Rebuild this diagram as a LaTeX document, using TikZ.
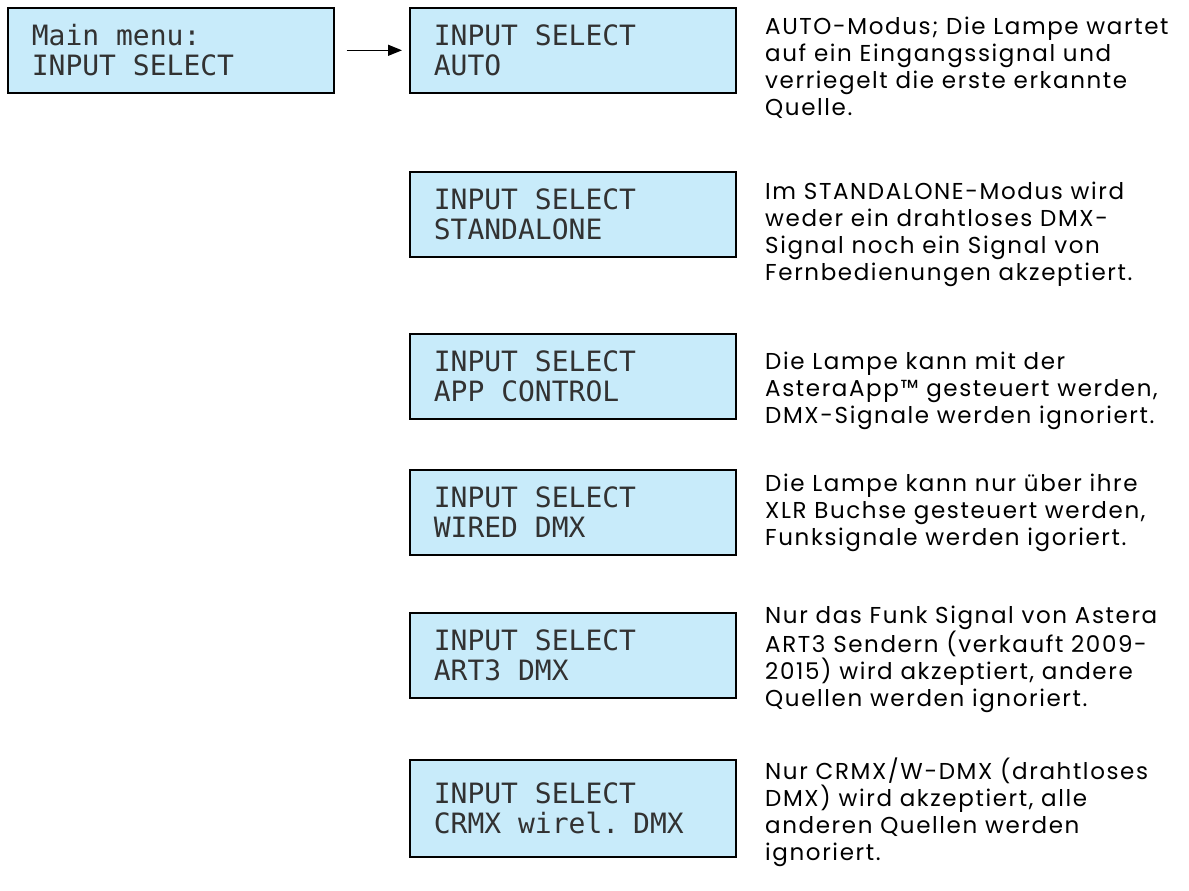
\documentclass[tikz,border=0pt]{standalone}
\usepackage{fontspec}
\usetikzlibrary{arrows.meta}
\usetikzlibrary{positioning}
\newfontfamily\lcdfont{DejaVu Sans Mono}
\newfontfamily\gothicfont[LetterSpace=7]{Poppins}
\newcommand\lcdsetup{\lcdfont\fontsize{28}{30}\selectfont}
\definecolor{lcdblue}{RGB}{200,235,250}
\definecolor{lcdtext}{RGB}{50,50,50}

\tikzset{
  lcd/.style={draw=black, line width=1.6pt, fill=lcdblue, anchor=north west,
    minimum width=326pt, minimum height=85pt, inner xsep=24pt,
    text width=278pt, align=left, text=lcdtext, font=\lcdsetup,
    execute at begin node={\spaceskip=16.9pt\relax}},
  desc/.style={anchor=north west, inner sep=0pt, align=left,
    font=\gothicfont\fontsize{23}{27}\selectfont},
  menuarrow/.style={line width=1.3pt, -{Triangle[length=14pt,width=11pt]},
    shorten <=12pt, shorten >=7pt},
}

\begin{document}
\begin{tikzpicture}[x=1pt,y=-1pt]
  \useasboundingbox (0,0) rectangle (1189,891);

  % main menu entry
  \node[lcd] (main) at (7,7) {Main menu:\\INPUT SELECT};

  % input select options
  \node[lcd] (auto) at (409,7) {INPUT SELECT\\AUTO};
  \node[lcd] (standalone) at (409,171) {INPUT SELECT\\STANDALONE};
  \node[lcd] (app) at (409,333) {INPUT SELECT\\APP CONTROL};
  \node[lcd] (wired) at (409,469) {INPUT SELECT\\WIRED DMX};
  \node[lcd] (art3) at (409,612) {INPUT SELECT\\ART3 DMX};
  \node[lcd, minimum height=97pt] (crmx) at (409,759) {INPUT SELECT\\CRMX wirel. DMX};

  \draw[menuarrow] (main.east) -- (auto.west);

  % explanations
  \node[desc] (autotxt) at (765,17) {AUTO-Modus; Die Lampe wartet\\auf ein Eingangssignal und\\verriegelt die erste erkannte\\Quelle.};
  \node[desc] (standalonetxt) at (765,182) {Im STANDALONE-Modus wird\\weder ein drahtloses DMX-\\Signal noch ein Signal von\\Fernbedienungen akzeptiert.};
  \node[desc] (apptxt) at (765,352) {Die Lampe kann mit der\\AsteraApp™ gesteuert werden,\\DMX-Signale werden ignoriert.};
  \node[desc] (wiredtxt) at (765,474) {Die Lampe kann nur über ihre\\XLR Buchse gesteuert werden,\\Funksignale werden igoriert.};
  \node[desc] (art3txt) at (765,606) {Nur das Funk Signal von Astera\\ART3 Sendern (verkauft 2009-\\2015) wird akzeptiert, andere\\Quellen werden ignoriert.};
  \node[desc] (crmxtxt) at (765,758) {Nur CRMX/W-DMX (drahtloses\\DMX) wird akzeptiert, alle\\anderen Quellen werden\\ignoriert.};
\end{tikzpicture}
\end{document}
